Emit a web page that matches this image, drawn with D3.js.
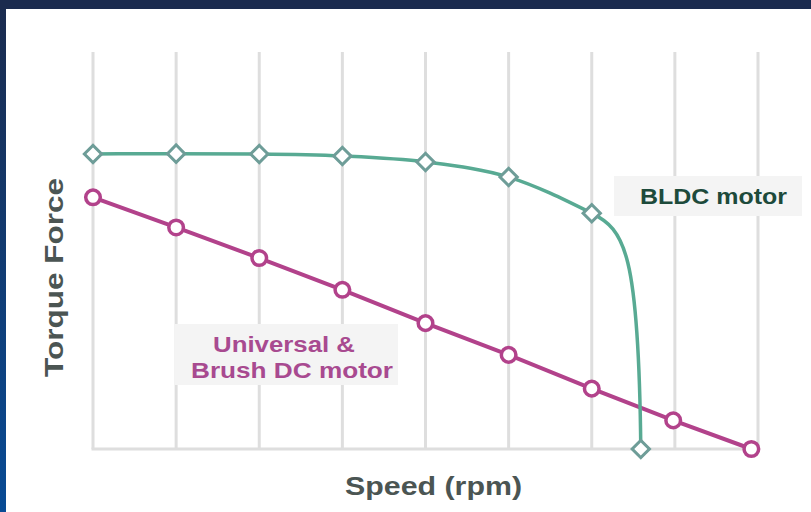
<!DOCTYPE html>
<html>
<head>
<meta charset="utf-8">
<script src="https://cdn.jsdelivr.net/npm/d3@7"></script>
<style>
  html, body { margin: 0; padding: 0; background: #ffffff; }
  svg { display: block; font-family: "Liberation Sans", Arial, sans-serif; }
</style>
</head>
<body>
<svg id="chart" width="811" height="512"></svg>
<script>
// ---- Data ----
const gridTicks = [0, 1, 2, 3, 4, 5, 6, 7, 8];
const bldcSpeed  = [0, 1, 2, 3, 4, 5, 6, 6.59];
const bldcTorque = [74.3, 74.4, 74.3, 73.8, 72.3, 68.5, 59.4, 0];
const brushSpeed  = [0, 1, 2, 3, 4, 5, 6, 6.98, 7.92];
const brushTorque = [63.4, 55.8, 48.1, 40.1, 31.7, 23.7, 15.2, 7.2, 0];
const bldcLabel = "BLDC motor";
const brushLabel = ["Universal &", "Brush DC motor"];
const xTitle = "Speed (rpm)";
const yTitle = "Torque Force";

// ---- Setup ----
const W = 811, H = 512;
const svg = d3.select("#chart");

const defs = svg.append("defs");
const grad = defs.append("linearGradient").attr("id", "leftGrad")
  .attr("x1", 0).attr("y1", 0).attr("x2", 0).attr("y2", 1);
grad.append("stop").attr("offset", "0%").attr("stop-color", "#1b2b4e");
grad.append("stop").attr("offset", "100%").attr("stop-color", "#084b95");

svg.append("rect").attr("x", 0).attr("y", 0).attr("width", W).attr("height", H).attr("fill", "#ffffff");
svg.append("rect").attr("x", 0).attr("y", 0).attr("width", 6).attr("height", H).attr("fill", "url(#leftGrad)");
svg.append("rect").attr("x", 0).attr("y", 0).attr("width", W).attr("height", 9).attr("fill", "#1b2b4e");

const x = d3.scaleLinear().domain([0, 8]).range([93, 758]);
const y = d3.scaleLinear().domain([0, 100]).range([449, 52]);

// grid lines
svg.append("g").selectAll("line").data(gridTicks).join("line")
  .attr("x1", d => x(d)).attr("x2", d => x(d))
  .attr("y1", y(100)).attr("y2", y(0))
  .attr("stroke", "#dedede").attr("stroke-width", 3);
// baseline
svg.append("line")
  .attr("x1", x(0) - 1.5).attr("x2", x(8) + 1.5)
  .attr("y1", y(0)).attr("y2", y(0))
  .attr("stroke", "#dedede").attr("stroke-width", 3);

// ---- Label boxes ----
svg.append("rect").attr("x", 614).attr("y", 176).attr("width", 188).attr("height", 40).attr("fill", "#f4f4f4");
svg.append("text").attr("x", 640).attr("y", 204)
  .attr("font-size", 22).attr("font-weight", "bold")
  .attr("textLength", 147).attr("lengthAdjust", "spacingAndGlyphs")
  .attr("fill", "#1d4a3b").text(bldcLabel);

svg.append("rect").attr("x", 175).attr("y", 324).attr("width", 223).attr("height", 61).attr("fill", "#f4f4f4");
const brushPos = [{x: 213, y: 352, w: 142}, {x: 191, y: 378, w: 202}];
svg.append("g").selectAll("text").data(brushLabel).join("text")
  .attr("x", (d, i) => brushPos[i].x).attr("y", (d, i) => brushPos[i].y)
  .attr("textLength", (d, i) => brushPos[i].w).attr("lengthAdjust", "spacingAndGlyphs")
  .attr("font-size", 22).attr("font-weight", "bold")
  .attr("fill", "#a84a90").text(d => d);

// ---- Brush DC series ----
const brushPts = brushSpeed.map((s, i) => [x(s), y(brushTorque[i])]);
svg.append("path").attr("d", d3.line()(brushPts))
  .attr("fill", "none").attr("stroke", "#b2428b").attr("stroke-width", 4);

// ---- BLDC series ----
const bldcPts = bldcSpeed.map((s, i) => [x(s), y(bldcTorque[i])]);
const head = d3.line().curve(d3.curveMonotoneX)(bldcPts.slice(0, -1));
const p0 = bldcPts[bldcPts.length - 2], p3 = bldcPts[bldcPts.length - 1];
const dx = p3[0] - p0[0], dy = p3[1] - p0[1];
const c1 = [p0[0] + 0.67 * dx, p0[1] + 0.07 * dy];
const c2 = [p3[0] - 0.04 * dx, p3[1] - 0.84 * dy];
const tail = `C${c1[0]},${c1[1]},${c2[0]},${c2[1]},${p3[0]},${p3[1]}`;
svg.append("path").attr("d", head + tail)
  .attr("fill", "none").attr("stroke", "#58aa93").attr("stroke-width", 3.5);

// markers
svg.append("g").selectAll("circle").data(brushPts).join("circle")
  .attr("cx", d => d[0]).attr("cy", d => d[1]).attr("r", 7.3)
  .attr("fill", "#ffffff").attr("stroke", "#b2428b").attr("stroke-width", 3.5);

const diamond = d3.symbol().type(d3.symbolSquare).size(150);
svg.append("g").selectAll("path").data(bldcPts).join("path")
  .attr("d", diamond)
  .attr("transform", d => `translate(${d[0]},${d[1]}) rotate(45)`)
  .attr("fill", "#ffffff").attr("stroke", "#6e9d98").attr("stroke-width", 3);

// ---- Axis titles ----
svg.append("text").attr("x", 345).attr("y", 495)
  .attr("font-size", 25).attr("font-weight", "bold")
  .attr("textLength", 177).attr("lengthAdjust", "spacingAndGlyphs")
  .attr("fill", "#4b5553").text(xTitle);
svg.append("text")
  .attr("transform", "translate(63,377) rotate(-90)")
  .attr("font-size", 25).attr("font-weight", "bold")
  .attr("textLength", 199).attr("lengthAdjust", "spacingAndGlyphs")
  .attr("fill", "#4b5553").text(yTitle);
</script>
</body>
</html>
